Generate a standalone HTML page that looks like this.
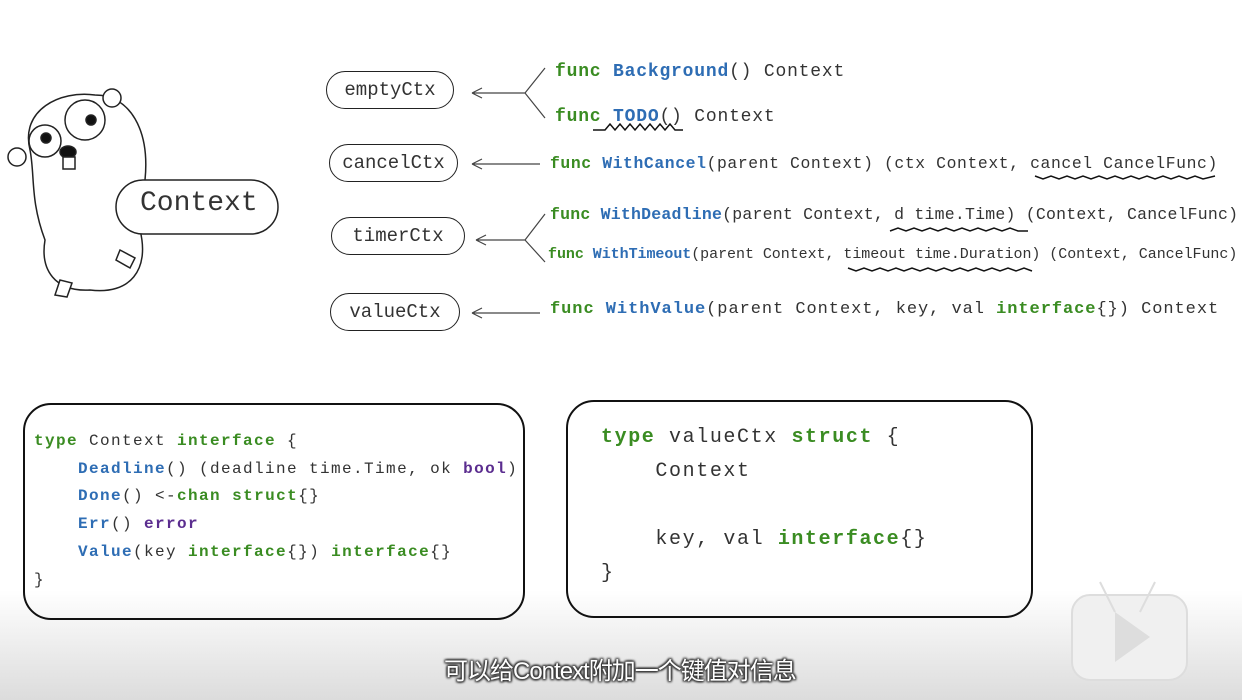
<!DOCTYPE html>
<html><head><meta charset="utf-8"><style>
body{margin:0;width:1242px;height:700px;overflow:hidden;background:linear-gradient(#fff 0,#fff 590px,#dcdcdc 700px);font-family:"Liberation Mono",monospace;position:relative}
.a{position:absolute;white-space:pre;color:#333}
.g{color:#3a8c22;font-weight:bold}.b{color:#2e6db4;font-weight:bold}.p{color:#5b2d8f;font-weight:bold}
.pill{position:absolute;border:1.5px solid #222;border-radius:20px;text-align:center;font-size:19px;color:#333;line-height:36px;height:36px}
.box{position:absolute;border:2.5px solid #111;border-radius:28px}
</style></head><body>
<svg width="1242" height="700" style="position:absolute;left:0;top:0">
<g fill="#fff" stroke="#222" stroke-width="1.5">
<path d="M30 150 C20 110 60 90 95 95 C130 95 150 130 145 180 L140 230 C150 270 130 295 90 290 C55 292 40 270 45 240 C30 200 35 175 30 150Z"/>
<circle cx="17" cy="157" r="9"/><circle cx="112" cy="98" r="9"/>
<circle cx="45" cy="141" r="16"/><circle cx="85" cy="120" r="20"/>
<circle cx="46" cy="138" r="5" fill="#111"/><circle cx="91" cy="120" r="5" fill="#111"/>
<ellipse cx="68" cy="152" rx="8" ry="6" fill="#111"/>
<rect x="63" y="157" width="12" height="12"/>
<path d="M60 280 l-5 15 l12 2 l5 -14Z"/><path d="M120 250 l15 8 l-5 10 l-14 -8Z"/>
</g>
<rect x="116" y="180" width="162" height="54" rx="27" fill="#fff" stroke="#222" stroke-width="1.5"/>
<g stroke="#444" stroke-width="1.2" fill="none">
<path d="M472 93 L525 93 M525 93 L545 68 M525 93 L545 118 M472 93 l10 -5 M472 93 l10 5"/>
<path d="M472 164 L540 164 M472 164 l10 -5 M472 164 l10 5"/>
<path d="M476 240 L525 240 M525 240 L545 214 M525 240 L545 262 M476 240 l10 -5 M476 240 l10 5"/>
<path d="M472 313 L540 313 M472 313 l10 -5 M472 313 l10 5"/>
<path stroke="#111" stroke-width="1.5" d="M593 130 l12 0 l5 -6 l5 6 l5 -6 l5 6 l5 -6 l5 6 l5 -6 l5 6 l5 -6 l5 6 l5 -6 l5 6 l5 -6 l5 6 l8 0"/>
<path stroke="#111" stroke-width="1.5" d="M1035 176 l8 3 l8 -3 l8 3 l8 -3 l8 3 l8 -3 l8 3 l8 -3 l8 3 l8 -3 l8 3 l8 -3 l8 3 l8 -3 l8 3 l8 -3 l8 3 l8 -3 l8 3 l8 -3 l8 3 l12 -3"/>
<path stroke="#111" stroke-width="1.5" d="M890 231 l8 -3 l8 3 l8 -3 l8 3 l8 -3 l8 3 l8 -3 l8 3 l8 -3 l8 3 l8 -3 l8 3 l8 -3 l8 3 l8 -3 l8 3 l10 0"/>
<path stroke="#111" stroke-width="1.5" d="M848 268 l8 3 l8 -3 l8 3 l8 -3 l8 3 l8 -3 l8 3 l8 -3 l8 3 l8 -3 l8 3 l8 -3 l8 3 l8 -3 l8 3 l8 -3 l8 3 l8 -3 l8 3 l8 -3 l8 3 l8 -3 l8 3"/>
</g>
<g fill="#f0f0f0" stroke="#ddd" stroke-width="2"><rect x="1072" y="595" width="115" height="85" rx="18"/><path d="M1115 612 L1100 582 M1140 612 L1155 582"/></g>
<path d="M1115 612 L1150 637 L1115 662Z" fill="#ddd"/>
</svg>
<div class="a" style="left:140px;top:188px;font-size:28px;color:#333">Context</div>
<div class="pill" style="left:326px;top:71px;width:126px">emptyCtx</div>
<div class="pill" style="left:329px;top:144px;width:127px">cancelCtx</div>
<div class="pill" style="left:331px;top:217px;width:132px">timerCtx</div>
<div class="pill" style="left:330px;top:293px;width:128px">valueCtx</div>
<div class="a" style="left:555px;top:62px;font-size:18px;letter-spacing:0.8px"><span class="g">func</span> <span class="b">Background</span>() Context</div>
<div class="a" style="left:555px;top:107px;font-size:18px;letter-spacing:0.8px"><span class="g">func</span> <span class="b">TODO</span>() Context</div>
<div class="a" style="left:550px;top:154px;font-size:16.4px;letter-spacing:0.6px"><span class="g">func</span> <span class="b">WithCancel</span>(parent Context) (ctx Context, cancel CancelFunc)</div>
<div class="a" style="left:550px;top:205px;font-size:16.5px;letter-spacing:0.22px"><span class="g">func</span> <span class="b">WithDeadline</span>(parent Context, d time.Time) (Context, CancelFunc)</div>
<div class="a" style="left:548px;top:246px;font-size:15px;letter-spacing:-0.05px"><span class="g">func</span> <span class="b">WithTimeout</span>(parent Context, timeout time.Duration) (Context, CancelFunc)</div>
<div class="a" style="left:550px;top:300px;font-size:17px;letter-spacing:0.95px"><span class="g">func</span> <span class="b">WithValue</span>(parent Context, key, val <span class="g">interface</span>{}) Context</div>
<div class="box" style="left:23px;top:403px;width:498px;height:213px"></div>
<div class="box" style="left:566px;top:400px;width:463px;height:214px"></div>
<div class="a" style="left:34px;top:428px;font-size:16px;letter-spacing:1.4px;line-height:27.7px"><span class="g">type</span> Context <span class="g">interface</span> {
    <span class="b">Deadline</span>() (deadline time.Time, ok <span class="p">bool</span>)
    <span class="b">Done</span>() &lt;-<span class="g">chan</span> <span class="g">struct</span>{}
    <span class="b">Err</span>() <span class="p">error</span>
    <span class="b">Value</span>(key <span class="g">interface</span>{}) <span class="g">interface</span>{}
}</div>
<div class="a" style="left:601px;top:421px;font-size:20px;letter-spacing:1.6px;line-height:34px"><span class="g">type</span> valueCtx <span class="g">struct</span> {
    Context

    key, val <span class="g">interface</span>{}
}</div>
<div class="a" style="left:444px;top:651px;font-family:'Liberation Sans','Noto Sans CJK SC',sans-serif;font-size:24px;color:#fff;text-shadow:0 0 2px #333,1px 1px 2px #333,-1px -1px 2px #333,1px -1px 2px #333,-1px 1px 2px #333;letter-spacing:-1px">可以给Context附加一个键值对信息</div>
</body></html>
